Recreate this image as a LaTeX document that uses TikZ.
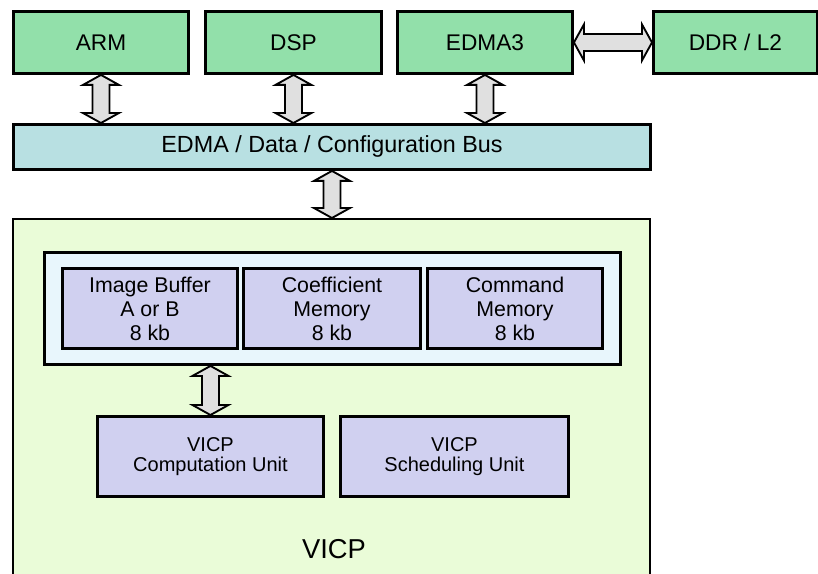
\documentclass[tikz,border=0pt]{standalone}
\usepackage{fontspec}
\setmainfont{Liberation Sans}
\usetikzlibrary{calc}

\newdimen\pxu \pxu=0.75pt

\definecolor{cpugreen}{RGB}{146,224,170}
\definecolor{busblue}{RGB}{184,224,226}
\definecolor{vicpgreen}{RGB}{234,252,216}
\definecolor{memframe}{RGB}{232,246,252}
\definecolor{unitpurple}{RGB}{208,208,240}
\definecolor{arrowgray}{RGB}{224,224,224}

\tikzset{
  boxsize/.style 2 args={minimum width=#1\pxu, minimum height=#2\pxu},
  blockbox/.style={draw, line width=2.2pt, anchor=north west, inner sep=0pt},
  cpubox/.style={blockbox, fill=cpugreen, font=\fontsize{17}{20}\selectfont},
  busbox/.style={blockbox, fill=busblue, font=\fontsize{17.5}{20}\selectfont},
  membox/.style={blockbox, fill=unitpurple, align=center,
    font=\fontsize{16}{18}\selectfont},
  unitbox/.style={blockbox, fill=unitpurple, align=center,
    font=\fontsize{15}{15}\selectfont},
  fatline/.style={draw, fill=arrowgray, line width=1.4pt}
}

% double block arrow from #1 to #2
\newcommand{\fatarrow}[2]{%
  \path (#1) coordinate (fa1) (#2) coordinate (fa2);
  \coordinate (fh1) at ($(fa1)!10\pxu!(fa2)$);
  \coordinate (fh2) at ($(fa2)!10\pxu!(fa1)$);
  \path[fatline] (fa1) -- ($(fh1)!18\pxu!90:(fa2)$) -- ($(fh1)!8.5\pxu!90:(fa2)$)
    -- ($(fh2)!8.5\pxu!-90:(fa1)$) -- ($(fh2)!18\pxu!-90:(fa1)$) -- (fa2)
    -- ($(fh2)!18\pxu!90:(fa1)$) -- ($(fh2)!8.5\pxu!90:(fa1)$)
    -- ($(fh1)!8.5\pxu!-90:(fa2)$) -- ($(fh1)!18\pxu!-90:(fa2)$) -- cycle;}

\begin{document}
\begin{tikzpicture}[x=0.75pt,y=-0.75pt]

\useasboundingbox (0,0) rectangle (818,574);

% Processors and memory
\node[cpubox, boxsize={175}{62}] (arm) at (12,10) {ARM};
\node[cpubox, boxsize={176}{62}] (dsp) at (204,10) {DSP};
\node[cpubox, boxsize={175}{62}] (edma) at (396,10) {EDMA3};
\node[cpubox, boxsize={164}{62}] (ddr) at (652,10) {DDR / L2};

% Bus
\node[busbox, boxsize={637}{45}] (bus) at (12,123)
{EDMA / Data / Configuration Bus};

% VICP
\node[blockbox, line width=1.8pt, fill=vicpgreen, boxsize={637}{360}] (vicp) at (12,218) {};

\node[font=\fontsize{20.5}{24}\selectfont] (vicplabel) at (334,549) {VICP};

\node[blockbox, fill=memframe, boxsize={576}{112}] (mems) at (43,251) {};

\node[membox, boxsize={175}{80}] (imgbuf) at (61,267)
{Image Buffer\\A or B\\8 kb};
\node[membox, boxsize={177}{80}] (coef) at (242,267)
{Coefficient\\Memory\\8 kb};
\node[membox, boxsize={175}{80}] (cmd) at (426,267)
{Command\\Memory\\8 kb};

\node[unitbox, boxsize={226}{80}] (comp) at (96,415)
{VICP\\Computation Unit};
\node[unitbox, boxsize={228}{80}] (sched) at (339,415)
{VICP\\Scheduling Unit};

% Arrows
\fatarrow{arm.south}{arm.south |- bus.north}
\fatarrow{dsp.south}{dsp.south |- bus.north}
\fatarrow{edma.south}{edma.south |- bus.north}
\fatarrow{edma.east}{ddr.west}
\fatarrow{bus.south}{bus.south |- vicp.north}
\fatarrow{comp.north |- mems.south}{comp.north}

\end{tikzpicture}
\end{document}
